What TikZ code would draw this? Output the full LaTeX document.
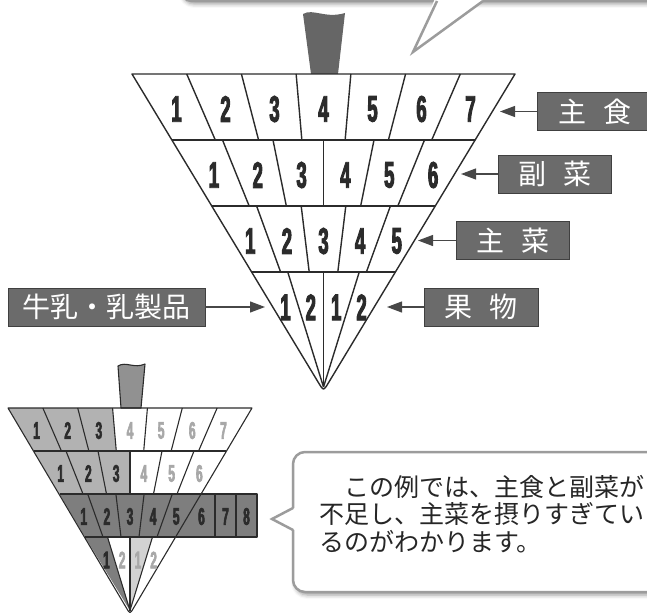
\documentclass[tikz,border=0pt]{standalone}
\usepackage{fontspec}
\newfontfamily\cjk{Noto Sans CJK JP}
\newfontfamily\narrowdigits[FakeStretch=0.5,FakeBold=2.5]{Liberation Sans}
\usetikzlibrary{arrows.meta,calc,shadows.blur}

\definecolor{boxgray}{HTML}{6B6B6B}
\definecolor{linedark}{HTML}{2B2B2B}
\definecolor{bubblegray}{HTML}{9C9C9C}
\definecolor{stemgray}{HTML}{666666}
\definecolor{fillA}{HTML}{B2B2B2}
\definecolor{fillB}{HTML}{7E7E7E}
\definecolor{fillC}{HTML}{D2D2D2}
\definecolor{digitlight}{HTML}{A8A8A8}

\begin{document}
\begin{tikzpicture}[x=1pt, y=-1pt,
    cellline/.style={draw=linedark, line width=1.4pt, line join=round},
    thinline/.style={draw=linedark, line width=1.1pt, line join=round},
    bignum/.style={font=\narrowdigits\fontsize{37}{37}\selectfont\bfseries, text=linedark, inner sep=0pt, yshift=-2pt},
    smallnum/.style={font=\narrowdigits\fontsize{24}{24}\selectfont\bfseries, inner sep=0pt, yshift=-1pt},
    foodbox/.style={fill=boxgray, draw=black!75, line width=0.8pt, text=white, font=\cjk\fontsize{28}{28}\selectfont, minimum height=38pt, inner sep=0pt},
    toarrow/.style={draw=black!72, line width=1.2pt, -{Triangle[length=15pt, width=11pt]}},
    bubblebox/.style={draw=bubblegray, line width=2.5pt, fill=white, rounded corners=12pt, blur shadow={shadow xshift=2pt, shadow yshift=-3pt, shadow blur radius=4pt, shadow opacity=40}}
  ]
  \useasboundingbox (0,0) rectangle (647,615);

  % speech bubble at the top (cut off)
  \path[bubblebox] (180,-80) rectangle (700,1);
  \fill[white] (435,-1.5) -- (413,52) -- (485,-1.5) -- cycle;
  \draw[bubblegray, line width=2.5pt, line join=miter] (437,1) -- (413,52) -- (483,1);

  % main top
  \fill[stemgray] (311,74) -- (303,14) .. controls (313,8) and (325,19) .. (345,13) -- (338,74) -- cycle;

  \coordinate (L0) at (132,74);  \coordinate (R0) at (515,74);
  \coordinate (L1) at (172,140); \coordinate (R1) at (475,140);
  \coordinate (L2) at (212,206); \coordinate (R2) at (435,206);
  \coordinate (L3) at (252,272); \coordinate (R3) at (395,272);
  \coordinate (tip) at (323.5,387);
  \coordinate (peak) at (323.5,391);

  \draw[cellline] (R0) -- ($(peak)!9pt!(R0)$) .. controls (peak) .. ($(peak)!9pt!(L0)$) -- (L0) -- cycle;
  \draw[cellline] (L1) -- (R1);
  \draw[cellline] (L2) -- (R2);
  \draw[cellline] (L3) -- (R3);
  \foreach \i in {1,...,6}
    \draw[cellline] ($(L0)!\i/7!(R0)$) -- ($(L1)!\i/7!(R1)$);
  \foreach \i in {1,...,5}
    \draw[cellline] ($(L1)!\i/6!(R1)$) -- ($(L2)!\i/6!(R2)$);
  \foreach \i in {1,...,4}
    \draw[cellline] ($(L2)!\i/5!(R2)$) -- ($(L3)!\i/5!(R3)$);
  \foreach \i in {1,...,3}
    \draw[cellline] ($(L3)!\i/4!(R3)$) -- (tip);

  \coordinate (ML1) at ($(L0)!.5!(L1)$); \coordinate (MR1) at ($(R0)!.5!(R1)$);
  \coordinate (ML2) at ($(L1)!.5!(L2)$); \coordinate (MR2) at ($(R1)!.5!(R2)$);
  \coordinate (ML3) at ($(L2)!.5!(L3)$); \coordinate (MR3) at ($(R2)!.5!(R3)$);
  \coordinate (ML4) at ($(L3)!.29!(tip)$); \coordinate (MR4) at ($(R3)!.29!(tip)$);
  \foreach \i [evaluate=\i as \f using (\i-0.5)/7] in {1,...,7}
    \node[bignum] (m1-\i) at ($(ML1)!\f!(MR1)$) {\i};
  \foreach \i [evaluate=\i as \f using (\i-0.5)/6] in {1,...,6}
    \node[bignum] (m2-\i) at ($(ML2)!\f!(MR2)$) {\i};
  \foreach \i [evaluate=\i as \f using (\i-0.5)/5] in {1,...,5}
    \node[bignum] (m3-\i) at ($(ML3)!\f!(MR3)$) {\i};
  \foreach \i/\t [evaluate=\i as \f using (\i-0.5)/4] in {1/1,2/2,3/1,4/2}
    \node[bignum] (m4-\i) at ($(ML4)!\f!(MR4)$) {\t};

  % food group labels
  \node[foodbox, minimum width=115pt] (shushoku) at (594.5,111.5) {主\hspace{17pt}食};
  \node[foodbox, minimum width=113pt] (fukusai) at (554.5,174) {副\hspace{17pt}菜};
  \node[foodbox, minimum width=113pt] (shusai) at (512.5,240.5) {主\hspace{17pt}菜};
  \node[foodbox, minimum width=114pt] (kudamono) at (481,307) {果\hspace{17pt}物};
  \node[foodbox, minimum width=197pt] (nyuseihin) at (106.5,307) {牛乳・乳製品};

  \coordinate (toShushoku) at (500,111.5);
  \coordinate (toFukusai) at (461,174);
  \coordinate (toShusai) at (418,240.5);
  \coordinate (toKudamono) at (387,307);
  \coordinate (toNyuseihin) at (265,307);
  \draw[toarrow] (shushoku.west) -- (toShushoku);
  \draw[toarrow] (fukusai.west) -- (toFukusai);
  \draw[toarrow] (shusai.west) -- (toShusai);
  \draw[toarrow] (kudamono.west) -- (toKudamono);
  \draw[toarrow] (nyuseihin.east) -- (toNyuseihin);

  % small example top
  \coordinate (sL0) at (8,408);    \coordinate (sR0) at (252,408);
  \coordinate (sL1) at (34,451);   \coordinate (sR1) at (226,451);
  \coordinate (sL2) at (59.5,494); \coordinate (sR2) at (200.5,494);
  \coordinate (sL3) at (85,537);   \coordinate (sR3) at (175,537);
  \coordinate (stip) at (130,610.5);
  \coordinate (speak) at (130,614);
  \coordinate (xTR) at (257,494);  \coordinate (xBR) at (257,537);

  \draw[thinline, fill=fillB!85] (121,408) -- (118,366) .. controls (126,361) and (134,369) .. (145,364) -- (141,408) -- cycle;

  \fill[fillA] (sL0) -- ($(sL0)!3/7!(sR0)$) -- ($(sL1)!3/7!(sR1)$) -- (sL1) -- cycle;
  \fill[fillA] (sL1) -- ($(sL1)!3/6!(sR1)$) -- ($(sL2)!3/6!(sR2)$) -- (sL2) -- cycle;
  \fill[fillB] (sL2) -- (xTR) -- (xBR) -- (sL3) -- cycle;
  \fill[fillB] (sL3) -- ($(sL3)!1/4!(sR3)$) -- (stip) -- cycle;
  \fill[fillC] ($(sL3)!2/4!(sR3)$) -- ($(sL3)!3/4!(sR3)$) -- (stip) -- cycle;

  \draw[thinline] (sR0) -- ($(speak)!7pt!(sR0)$) .. controls (speak) .. ($(speak)!7pt!(sL0)$) -- (sL0) -- cycle;
  \draw[thinline] (sL1) -- (sR1);
  \draw[thinline] (sL2) -- (xTR) -- (xBR) -- (sL3);
  \draw[thinline] (215,494) -- (215,537);
  \draw[thinline] (236,494) -- (236,537);
  \foreach \i in {1,...,6}
    \draw[thinline] ($(sL0)!\i/7!(sR0)$) -- ($(sL1)!\i/7!(sR1)$);
  \foreach \i in {1,...,5}
    \draw[thinline] ($(sL1)!\i/6!(sR1)$) -- ($(sL2)!\i/6!(sR2)$);
  \foreach \i in {1,...,4}
    \draw[thinline] ($(sL2)!\i/5!(sR2)$) -- ($(sL3)!\i/5!(sR3)$);
  \foreach \i in {1,...,3}
    \draw[thinline] ($(sL3)!\i/4!(sR3)$) -- (stip);

  \coordinate (sML1) at ($(sL0)!.5!(sL1)$); \coordinate (sMR1) at ($(sR0)!.5!(sR1)$);
  \coordinate (sML2) at ($(sL1)!.5!(sL2)$); \coordinate (sMR2) at ($(sR1)!.5!(sR2)$);
  \coordinate (sML3) at ($(sL2)!.5!(sL3)$); \coordinate (sMR3) at ($(sR2)!.5!(sR3)$);
  \coordinate (sML4) at ($(sL3)!.3!(stip)$); \coordinate (sMR4) at ($(sR3)!.3!(stip)$);
  \foreach \i [evaluate=\i as \f using (\i-0.5)/7] in {1,2,3}
    \node[smallnum, text=linedark] (s1-\i) at ($(sML1)!\f!(sMR1)$) {\i};
  \foreach \i [evaluate=\i as \f using (\i-0.5)/7] in {4,...,7}
    \node[smallnum, text=digitlight] (s1-\i) at ($(sML1)!\f!(sMR1)$) {\i};
  \foreach \i [evaluate=\i as \f using (\i-0.5)/6] in {1,2,3}
    \node[smallnum, text=linedark] (s2-\i) at ($(sML2)!\f!(sMR2)$) {\i};
  \foreach \i [evaluate=\i as \f using (\i-0.5)/6] in {4,5,6}
    \node[smallnum, text=digitlight] (s2-\i) at ($(sML2)!\f!(sMR2)$) {\i};
  \foreach \i [evaluate=\i as \f using (\i-0.5)/5] in {1,...,5}
    \node[smallnum, text=linedark] (s3-\i) at ($(sML3)!\f!(sMR3)$) {\i};
  \node[smallnum, text=linedark] (s3-6) at (201.5,515.5) {6};
  \node[smallnum, text=linedark] (s3-7) at (225.5,515.5) {7};
  \node[smallnum, text=linedark] (s3-8) at (246.5,515.5) {8};
  \node[smallnum, text=linedark] (s4-1) at ($(sML4)!1/8!(sMR4)$) {1};
  \node[smallnum, text=digitlight] (s4-2) at ($(sML4)!3/8!(sMR4)$) {2};
  \node[smallnum, text=digitlight] (s4-3) at ($(sML4)!5/8!(sMR4)$) {1};
  \node[smallnum, text=digitlight] (s4-4) at ($(sML4)!7/8!(sMR4)$) {2};

  % speech bubble with the comment
  \path[bubblebox] (293,452) rectangle (700,592);
  \fill[white] (296,507.5) -- (272,519) -- (296,530.5) -- cycle;
  \draw[bubblegray, line width=2.5pt, line join=miter] (293,508) -- (272,519) -- (293,530);
  \node[anchor=west, align=left, inner sep=0pt, font=\cjk\fontsize{25}{27.5}\selectfont, text=black!85] (comment) at (319,514)
    {　この例では、主食と副菜が\\不足し、主菜を摂りすぎてい\\るのがわかります。};
\end{tikzpicture}
\end{document}
